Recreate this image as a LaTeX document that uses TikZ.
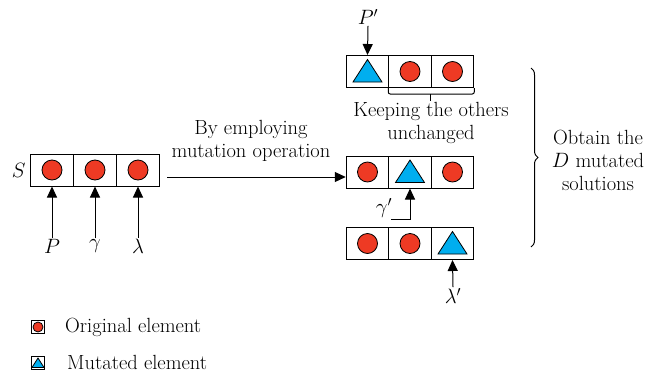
\documentclass[tikz,border=0pt]{standalone}
\usetikzlibrary{arrows.meta,decorations.pathreplacing,calc}
\definecolor{dotred}{HTML}{EE3A24}
\definecolor{triblue}{HTML}{00AEEF}
\tikzset{
  cell/.style={draw, line width=1pt, minimum width=42.5pt, minimum height=32pt, inner sep=0pt},
  dot/.style={draw, line width=0.8pt, fill=dotred},
  tri/.style={draw, line width=0.8pt, fill=triblue},
  arr/.style={-{Triangle[length=11pt,width=10pt]}, line width=1pt},
  lbl/.style={font=\fontsize{20.5}{23}\selectfont, align=center, inner sep=1pt}
}
\newcommand{\reddot}[1]{\filldraw[dot] (#1) circle (10pt);}
\newcommand{\bluetri}[1]{\filldraw[tri] ($(#1)+(-14.5,10.5)$) -- ($(#1)+(14.5,10.5)$) -- ($(#1)+(0,-12)$) -- cycle;}

\begin{document}
\begin{tikzpicture}[x=1pt, y=-1pt]
  \useasboundingbox (0,0) rectangle (661,375);
  % solution S
  \node[cell] (s1) at (52,170) {};
  \node[cell] (s2) at (95,170) {};
  \node[cell] (s3) at (138,170) {};
  \reddot{s1} \reddot{s2} \reddot{s3}
  \node[lbl, anchor=east] (S) at (s1.west) {$S$\,};
  \node[lbl] (P) at (52,246) {$P$};
  \node[lbl] (gam) at (95,246) {$\gamma$};
  \node[lbl] (lam) at (138,246) {$\lambda$};
  \draw[arr] (P.north) -- (s1.south);
  \draw[arr] (gam.north) -- (s2.south);
  \draw[arr] (lam.north) -- (s3.south);
  % mutation
  \node[lbl] (op) at (251,141) {By employing\\mutation operation};
  \coordinate (m0) at (167,177);
  \node[cell] (b1) at (367.5,172) {};
  \node[cell] (b2) at (410,172) {};
  \node[cell] (b3) at (452.5,172) {};
  \draw[arr] (m0) -- (m0 -| b1.west);
  % first mutated solution
  \node[cell] (a1) at (367.5,71.5) {};
  \node[cell] (a2) at (410,71.5) {};
  \node[cell] (a3) at (452.5,71.5) {};
  \bluetri{a1} \reddot{a2} \reddot{a3}
  \node[lbl] (Pp) at (368,17) {$P'$};
  \draw[arr] (Pp.south) -- (a1.north);
  \draw[line width=1pt, rounded corners=2pt] (a2.south west) -- ($(a2.south west)+(0,6)$) -- ($(a3.south east)+(0,6)$) -- (a3.south east);
  \draw[line width=1pt] ($(a3.south west)+(0,6)$) -- ($(a3.south west)+(0,13)$);
  \node[lbl] (keep) at (431,123) {Keeping the others\\unchanged};
  % second mutated solution
  \reddot{b1} \bluetri{b2} \reddot{b3}
  \node[lbl] (gp) at (384,208) {$\gamma'$};
  \coordinate (g0) at (391,219);
  \draw[arr] (g0) -- (g0 -| b2.south) -- (b2.south);
  % third mutated solution
  \node[cell] (c1) at (367.5,243.5) {};
  \node[cell] (c2) at (410,243.5) {};
  \node[cell] (c3) at (452.5,243.5) {};
  \reddot{c1} \reddot{c2} \bluetri{c3}
  \node[lbl] (lp) at (453,296) {$\lambda'$};
  \draw[arr] (lp.north) -- (c3.south);
  % D solutions
  \draw[line width=1pt, decorate, decoration={brace, amplitude=7pt}] (531,68) -- (531,247);
  \node[lbl] (obt) at (598,160) {Obtain the\\$D$ mutated\\solutions};
  % legend
  \node[draw, line width=0.8pt, minimum size=13pt, inner sep=0pt] (k1) at (38,327) {};
  \filldraw[dot] (k1) circle (5pt);
  \node[lbl, anchor=west] (t1) at (64,327) {Original element};
  \node[draw, line width=0.8pt, minimum size=13pt, inner sep=0pt] (k2) at (38,363) {};
  \filldraw[tri] ($(k2)+(-6,4.5)$) -- ($(k2)+(6,4.5)$) -- ($(k2)+(0,-5)$) -- cycle;
  \node[lbl, anchor=west] (t2) at (66,362) {Mutated element};
\end{tikzpicture}
\end{document}
